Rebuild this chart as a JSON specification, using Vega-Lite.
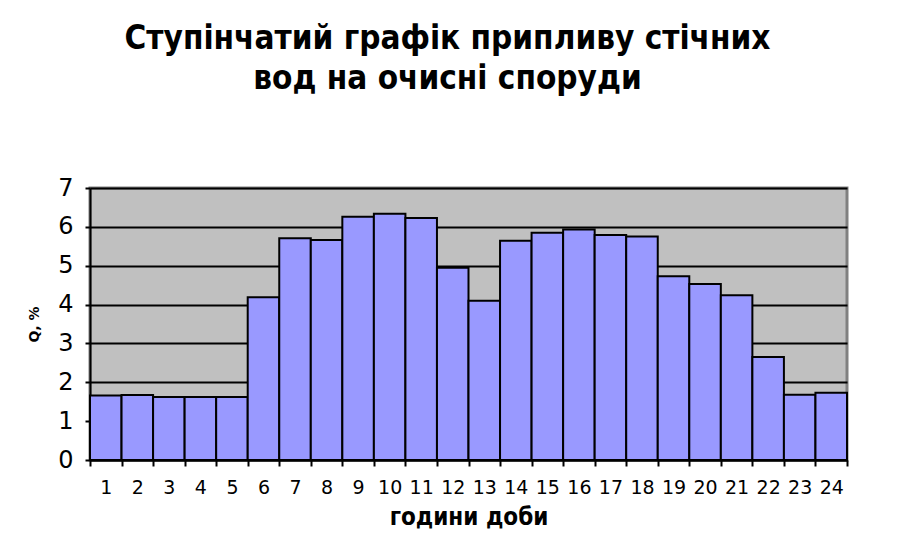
{
  "$schema": "https://vega.github.io/schema/vega-lite/v6.json",
  "width": 757,
  "height": 272,
  "autosize": {"type": "none"},
  "padding": {"left": 90, "top": 188, "right": 53, "bottom": 95},
  "background": "white",
  "title": {
    "text": ["Ступінчатий графік припливу стічних", "вод на очисні споруди"],
    "font": "DejaVu Sans Condensed",
    "fontSize": 33,
    "fontWeight": "bold",
    "color": "black",
    "anchor": "middle",
    "dx": -21,
    "offset": 80,
    "lineHeight": 40
  },
  "data": {
    "values": [
      {"hour": 1, "q": 1.66}, {"hour": 2, "q": 1.67}, {"hour": 3, "q": 1.62}, {"hour": 4, "q": 1.62},
      {"hour": 5, "q": 1.62}, {"hour": 6, "q": 4.19}, {"hour": 7, "q": 5.71}, {"hour": 8, "q": 5.66},
      {"hour": 9, "q": 6.26}, {"hour": 10, "q": 6.34}, {"hour": 11, "q": 6.23}, {"hour": 12, "q": 4.95},
      {"hour": 13, "q": 4.10}, {"hour": 14, "q": 5.64}, {"hour": 15, "q": 5.85}, {"hour": 16, "q": 5.93},
      {"hour": 17, "q": 5.79}, {"hour": 18, "q": 5.75}, {"hour": 19, "q": 4.73}, {"hour": 20, "q": 4.53},
      {"hour": 21, "q": 4.24}, {"hour": 22, "q": 2.65}, {"hour": 23, "q": 1.68}, {"hour": 24, "q": 1.73}
    ]
  },
  "mark": {"type": "bar", "fill": "#9999FF", "stroke": "black", "strokeWidth": 2},
  "encoding": {
    "x": {
      "field": "hour",
      "type": "ordinal",
      "scale": {"paddingInner": 0, "paddingOuter": 0},
      "axis": {
        "title": "години доби",
        "titleFont": "DejaVu Sans Condensed",
        "titleFontSize": 24,
        "titleFontWeight": "bold",
        "titleColor": "black",
        "titlePadding": 8,
        "labelAngle": 0,
        "labelFont": "DejaVu Sans",
        "labelFontSize": 19,
        "labelColor": "black",
        "labelPadding": 12,
        "domainColor": "black",
        "domainWidth": 2,
        "tickColor": "black",
        "tickWidth": 2,
        "tickSize": 6,
        "tickBand": "extent",
        "grid": false
      }
    },
    "y": {
      "field": "q",
      "type": "quantitative",
      "scale": {"domain": [0, 7], "nice": false},
      "axis": {
        "title": "Q, %",
        "titleFont": "DejaVu Sans",
        "titleFontSize": 14,
        "titleFontWeight": "bold",
        "titleColor": "black",
        "titlePadding": 16,
        "values": [0, 1, 2, 3, 4, 5, 6, 7],
        "labelFont": "DejaVu Sans",
        "labelFontSize": 24,
        "labelColor": "black",
        "labelPadding": 12,
        "domainColor": "black",
        "domainWidth": 2,
        "tickColor": "black",
        "tickWidth": 2,
        "tickSize": 5,
        "grid": true,
        "gridColor": "black",
        "gridWidth": 2
      }
    }
  },
  "config": {
    "view": {"fill": "#C0C0C0", "stroke": "#808080", "strokeWidth": 3}
  }
}
